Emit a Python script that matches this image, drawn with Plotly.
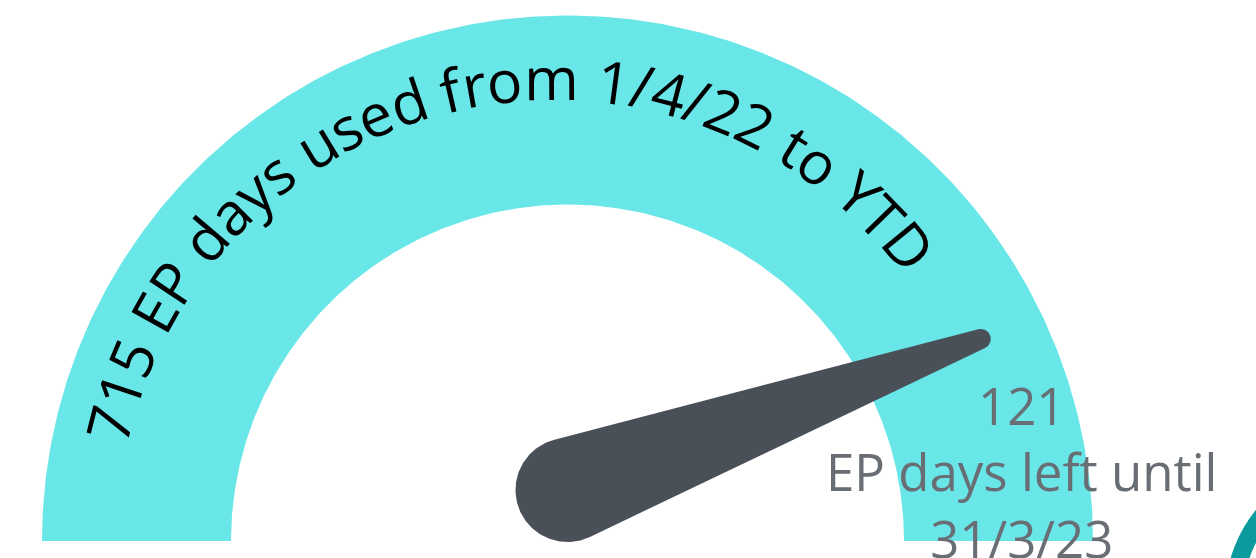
import numpy as np
import plotly.graph_objects as go

# ---------------- data ----------------
used_days = 715
left_days = 121
period_start = "1/4/22"
period_end = "31/3/23"
arc_label = f"{used_days} EP days used from {period_start} to YTD"
left_lines = [str(left_days), "EP days left until", period_end]

# ---------------- layout constants ----------------
W, H = 1256, 558
CX, CY = 567.5, 541.0          # gauge centre (pixels, y down)
R_OUT, R_IN = 525.5, 336.5
GAUGE_COLOR = "#69E6E8"
NEEDLE_COLOR = "#4A5058"
GREY = "#696D74"
total_days = used_days + left_days


def to_angle(v):
    return np.pi * (1 - v / total_days)


fig = go.Figure()

# gauge band (0 .. total)
th = np.linspace(to_angle(0), to_angle(total_days), 300)
bx = np.concatenate([CX + R_OUT * np.cos(th), CX + R_IN * np.cos(th[::-1])])
by = np.concatenate([CY - R_OUT * np.sin(th), CY - R_IN * np.sin(th[::-1])])
fig.add_trace(go.Scatter(x=bx, y=by, fill="toself", fillcolor=GAUGE_COLOR,
                         mode="lines", line=dict(width=0, color=GAUGE_COLOR),
                         hoverinfo="skip", showlegend=False))

# needle pointing at used_days
hub = np.array([567.5, 490.0])
r1, r2 = 52.0, 10.0
a_val = to_angle(used_days)
tip = np.array([CX + 460 * np.cos(a_val), CY - 460 * np.sin(a_val)])
d = tip - hub
L = np.hypot(*d)
a = np.arctan2(d[1], d[0])
phi = np.arccos((r1 - r2) / L)
t_front = np.linspace(a + phi, a - phi, 40)
t_back = np.linspace(a - phi, a + phi - 2 * np.pi, 120)
nx = np.concatenate([tip[0] + r2 * np.cos(t_front), hub[0] + r1 * np.cos(t_back)])
ny = np.concatenate([tip[1] + r2 * np.sin(t_front), hub[1] + r1 * np.sin(t_back)])
fig.add_trace(go.Scatter(x=nx, y=ny, fill="toself", fillcolor=NEEDLE_COLOR,
                         mode="lines", line=dict(width=0, color=NEEDLE_COLOR),
                         hoverinfo="skip", showlegend=False))

# ---------------- curved text ----------------
WID = {'7': .572, '1': .572, '5': .572, ' ': .26, 'E': .556, 'P': .604, 'd': .623,
       'a': .556, 'y': .5, 's': .479, 'u': .623, 'e': .561, 'f': .344, 'r': .408,
       'o': .601, 'm': .948, '/': .368, '4': .572, '2': .572, 't': .361, 'Y': .545,
       'T': .555, 'D': .705, '3': .572}
TCX, TCY, TR = 554.0, 536.0, 459.0
ang_start, ang_end = np.radians(165.8), np.radians(39.3)
widths = np.array([WID.get(c, .55) for c in arc_label])
centers = np.cumsum(widths) - widths / 2
frac = (centers - centers[0]) / (centers[-1] - centers[0])
angles = ang_start + (ang_end - ang_start) * frac

annotations = []
for ch, ang in zip(arc_label, angles):
    if ch == " ":
        continue
    annotations.append(dict(
        x=TCX + TR * np.cos(ang), y=TCY - TR * np.sin(ang), xref="x", yref="y",
        text=ch, showarrow=False, textangle=90 - np.degrees(ang),
        xanchor="center", yanchor="middle",
        font=dict(family="Open Sans", size=59, color="#000000")))

annotations.append(dict(
    x=1022, y=471, xref="x", yref="y", text="<br>".join(left_lines),
    showarrow=False, xanchor="center", yanchor="middle", align="center",
    font=dict(family="Open Sans", size=51, color=GREY)))

# decorative teal ring, mostly outside the canvas (bottom-right corner)
RING_R = 129
shapes = [dict(type="circle", xref="x", yref="y", x0=1363 - RING_R, x1=1363 + RING_R,
               y0=597 - RING_R, y1=597 + RING_R, line=dict(color="#0B9A9E", width=18),
               fillcolor="rgba(0,0,0,0)")]

fig.update_layout(
    width=W, height=H, margin=dict(l=0, r=0, t=0, b=0),
    paper_bgcolor="white", plot_bgcolor="white",
    xaxis=dict(range=[0, W], visible=False, fixedrange=True),
    yaxis=dict(range=[H, 0], visible=False, fixedrange=True),
    annotations=annotations, shapes=shapes, showlegend=False)

fig.write_html("out.html")
